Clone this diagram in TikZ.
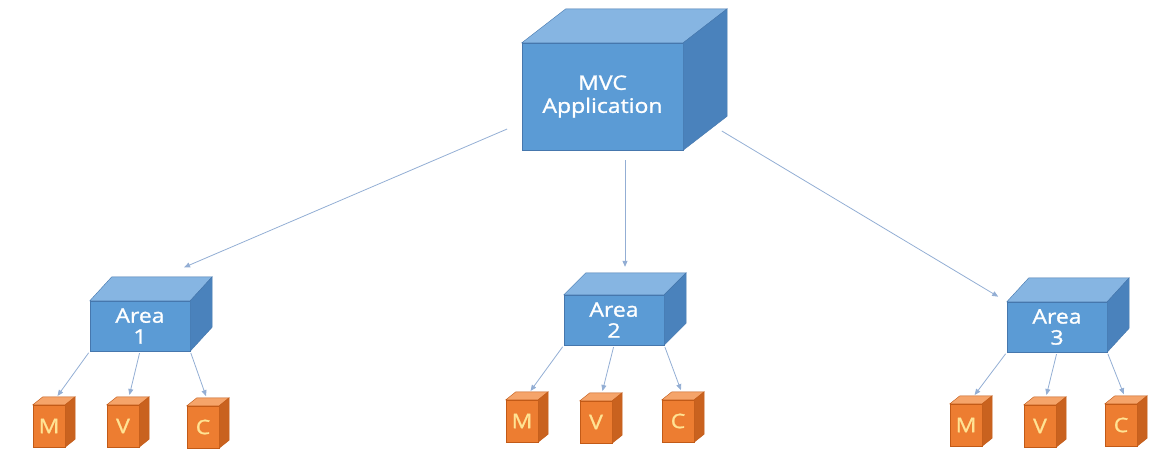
\documentclass[tikz,border=0pt]{standalone}
\usepackage{fontspec}
\newfontfamily\cubefont[FakeStretch=1.15, FakeBold=1.2]{Open Sans}
\usepackage{xcolor}
\usepackage{tikz}
\usetikzlibrary{arrows.meta,calc}

\definecolor{bluefront}{HTML}{5B9BD5}
\definecolor{bluetop}{HTML}{86B5E2}
\definecolor{blueside}{HTML}{4A82BC}
\definecolor{blueedge}{HTML}{4677AD}
\definecolor{orangefront}{HTML}{ED7D31}
\definecolor{orangetop}{HTML}{F5A46A}
\definecolor{orangeside}{HTML}{C9621F}
\definecolor{orangeedge}{HTML}{C25A17}
\definecolor{lettercol}{HTML}{FFE394}
\definecolor{linkcol}{HTML}{93AED4}

% top and right faces of a cube, put on its front node
\newcommand{\cubesides}[6]{%
  \filldraw[fill=#4, draw=#6, line width=0.4pt] (#1.north west) -- ++(#2,#3)
    -- ($(#1.north east)+(#2,#3)$) -- (#1.north east) -- cycle;
  \filldraw[fill=#5, draw=#6, line width=0.4pt] (#1.north east) -- ++(#2,#3)
    -- ($(#1.south east)+(#2,#3)$) -- (#1.south east) -- cycle;
  \coordinate (#1-top) at ($(#1.north)+(#2/2,#3/2)$);
  \coordinate (#1-back) at ($(#1.north)+(#2,#3)$);
}

\begin{document}
\begin{tikzpicture}[
  x=1pt, y=-1pt,
  bigcube/.style={fill=bluefront, draw=blueedge, line width=0.4pt,
    minimum width=161pt, minimum height=107pt, inner sep=0pt,
    text=white, align=center, font=\cubefont\fontsize{20}{23}\selectfont},
  areacube/.style={bigcube, minimum width=100pt, minimum height=50pt,
    font=\cubefont\fontsize{20}{21}\selectfont},
  partcube/.style={fill=orangefront, draw=orangeedge, line width=0.4pt,
    minimum width=32pt, minimum height=42pt, inner sep=0pt,
    text=lettercol, font=\cubefont\fontsize{20}{22}\selectfont},
  link/.style={draw=linkcol, line width=0.8pt, -{Triangle[length=6pt,width=5pt]}}
]
\useasboundingbox (0,0) rectangle (1150,453);

% Application
\node[bigcube] (mvc) at (602.5,96.5) {MVC\\Application};
\cubesides{mvc}{44}{-34}{bluetop}{blueside}{blueedge}

% Areas
\node[areacube] (a1) at (140,326) {Area\\1};
\node[areacube] (a2) at (614,320) {Area\\2};
\node[areacube] (a3) at (1057,327) {Area\\3};
\cubesides{a1}{22}{-24}{bluetop}{blueside}{blueedge}
\cubesides{a2}{22}{-22}{bluetop}{blueside}{blueedge}
\cubesides{a3}{22}{-24}{bluetop}{blueside}{blueedge}

% Model, View, Controller
\node[partcube] (m1) at (49,426) {M};
\node[partcube] (v1) at (123,426) {V};
\node[partcube] (c1) at (203,427) {C};
\node[partcube] (m2) at (522,421) {M};
\node[partcube] (v2) at (596,422) {V};
\node[partcube] (c2) at (678,421) {C};
\node[partcube] (m3) at (966,425) {M};
\node[partcube] (v3) at (1040,426) {V};
\node[partcube] (c3) at (1121,425) {C};
\cubesides{m1}{10}{-8}{orangetop}{orangeside}{orangeedge}
\cubesides{v1}{10}{-8}{orangetop}{orangeside}{orangeedge}
\cubesides{c1}{10}{-8}{orangetop}{orangeside}{orangeedge}
\cubesides{m2}{10}{-8}{orangetop}{orangeside}{orangeedge}
\cubesides{v2}{10}{-8}{orangetop}{orangeside}{orangeedge}
\cubesides{c2}{10}{-8}{orangetop}{orangeside}{orangeedge}
\cubesides{m3}{10}{-8}{orangetop}{orangeside}{orangeedge}
\cubesides{v3}{10}{-8}{orangetop}{orangeside}{orangeedge}
\cubesides{c3}{10}{-8}{orangetop}{orangeside}{orangeedge}

% Arrows
\draw[link, shorten <=16pt, shorten >=24pt] (mvc.198) -- (a1-back);
\draw[link, shorten <=10pt, shorten >=17pt] (mvc.south -| a2-top) -- (a2-top);
\draw[link, shorten <=45pt, shorten >=10pt] (mvc.-8) -- (a3.north west);

\draw[link, shorten <=2pt, shorten >=6pt] (a1.south west) -- (m1-top);
\draw[link, shorten <=2pt, shorten >=6pt] (a1.south) -- (v1-top);
\draw[link, shorten <=2pt, shorten >=6pt] (a1.south east) -- (c1-top);
\draw[link, shorten <=2pt, shorten >=6pt] (a2.south west) -- (m2-top);
\draw[link, shorten <=2pt, shorten >=6pt] (a2.south) -- (v2-top);
\draw[link, shorten <=2pt, shorten >=6pt] (a2.south east) -- (c2-top);
\draw[link, shorten <=2pt, shorten >=6pt] (a3.south west) -- (m3-top);
\draw[link, shorten <=2pt, shorten >=6pt] (a3.south) -- (v3-top);
\draw[link, shorten <=2pt, shorten >=6pt] (a3.south east) -- (c3-top);

\end{tikzpicture}
\end{document}
